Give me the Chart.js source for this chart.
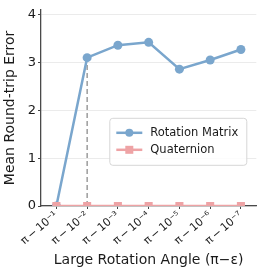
<!DOCTYPE html>
<html><head><meta charset="utf-8">
<script src="https://cdn.jsdelivr.net/npm/chart.js@4/dist/chart.umd.min.js"></script>
<style>html,body{margin:0;padding:0;background:#fff}#wrap{width:262px;height:273px}</style>
</head><body><div id="wrap"><canvas id="c" width="262" height="273"></canvas></div>
<script>
const categories = ['π\u2009−\u200910⁻¹','π\u2009−\u200910⁻²','π\u2009−\u200910⁻³','π\u2009−\u200910⁻⁴','π\u2009−\u200910⁻⁵','π\u2009−\u200910⁻⁶','π\u2009−\u200910⁻⁷'];
const rotationMatrix = [0, 3.1, 3.36, 3.42, 2.86, 3.05, 3.27];
const quaternion = [0, 0, 0, 0, 0, 0, 0];
const markerIndex = 1;
const markerValue = 3.1;
const yTicks = [0, 1, 2, 3, 4];

const BLUE = '#7aa6cd';
const PINK = '#eea3a5';
const FONT = 'DejaVu Sans';

const legendPlugin = {
  id: 'boxLegend',
  afterDraw(chart) {
    const ctx = chart.ctx, a = chart.chartArea;
    const x0 = a.right - 147, y0 = a.top + 108, w = 137, h = 47;
    ctx.save();
    ctx.fillStyle = 'rgba(255,255,255,0.85)';
    ctx.strokeStyle = '#d6d6d6';
    ctx.lineWidth = 1;
    ctx.beginPath();
    ctx.roundRect(x0 + 0.5, y0 + 0.5, w, h, 3);
    ctx.fill(); ctx.stroke();
    const items = [
      {label: chart.data.datasets[0].label, color: BLUE, shape: 'circle', y: y0 + 15},
      {label: chart.data.datasets[1].label, color: PINK, shape: 'rect', y: y0 + 32}
    ];
    ctx.font = '11.5px "' + FONT + '"';
    ctx.textBaseline = 'middle';
    items.forEach(it => {
      ctx.strokeStyle = it.color; ctx.fillStyle = it.color; ctx.lineWidth = 2.5;
      ctx.beginPath(); ctx.moveTo(x0 + 7, it.y); ctx.lineTo(x0 + 33, it.y); ctx.stroke();
      if (it.shape === 'circle') { ctx.beginPath(); ctx.arc(x0 + 20, it.y, 4, 0, Math.PI * 2); ctx.fill(); }
      else ctx.fillRect(x0 + 16, it.y - 4, 8, 8);
      ctx.fillStyle = '#1a1a1a';
      ctx.fillText(it.label, x0 + 41, it.y + 0.5);
    });
    ctx.restore();
  }
};

new Chart(document.getElementById('c'), {
  type: 'line',
  data: {
    labels: categories,
    datasets: [
      {label: 'Rotation Matrix', data: rotationMatrix, borderColor: BLUE, backgroundColor: BLUE,
       borderWidth: 2.5, pointRadius: 4.5, pointStyle: 'circle', pointBorderWidth: 0, order: 1, clip: 0},
      {label: 'Quaternion', data: quaternion, borderColor: PINK, backgroundColor: PINK,
       borderWidth: 2.5, pointRadius: 5.7, pointStyle: 'rect', pointBorderWidth: 0, order: 0, clip: 0},
      {label: 'marker', data: [{x: categories[markerIndex], y: 0}, {x: categories[markerIndex], y: markerValue}],
       borderColor: '#8c8c8c', borderWidth: 1.3, borderDash: [5, 3], pointRadius: 0, order: 2, clip: 0}
    ]
  },
  options: {
    responsive: false, animation: false,
    layout: {padding: {left: 0, right: 4, top: 5, bottom: 0}},
    plugins: {legend: {display: false}, tooltip: {enabled: false}},
    scales: {
      x: {
        offset: true, z: 1,
        grid: {drawOnChartArea: false, drawTicks: true, tickLength: 3, tickColor: '#444', tickWidth: 1},
        border: {color: '#4a4a4a', width: 1.3},
        ticks: {color: '#1a1a1a', font: {family: FONT, size: 11}, minRotation: 40, maxRotation: 40, padding: 0},
        title: {display: true, text: 'Large Rotation Angle (π−ε)', color: '#1a1a1a', font: {family: FONT, size: 14}, padding: {top: 0, bottom: 4}},
        afterFit(s) { s.height = 67; }
      },
      y: {
        min: 0, max: 4.1,
        afterBuildTicks(s) { s.ticks = yTicks.map(v => ({value: v})); },
        grid: {color: '#e6e6e6', borderDash: [2, 2], tickBorderDash: [], tickLength: 3, tickColor: '#444', tickWidth: 1, lineWidth: 0.8},
        border: {color: '#4a4a4a', width: 1.3},
        ticks: {color: '#1a1a1a', font: {family: FONT, size: 13}, padding: 2},
        title: {display: true, text: 'Mean Round-trip Error', color: '#1a1a1a', font: {family: FONT, size: 14}, padding: {top: 2, bottom: 0}},
        afterFit(s) { s.width = 41; }
      }
    }
  },
  plugins: [legendPlugin]
});
</script>
</body></html>
